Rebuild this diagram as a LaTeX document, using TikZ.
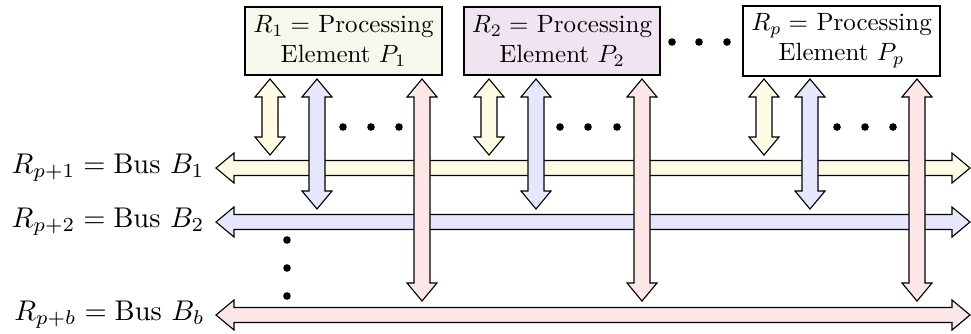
\documentclass[tikz,border=0pt]{standalone}
\usetikzlibrary{calc}
\definecolor{arY}{HTML}{FFFCE6}
\definecolor{arB}{HTML}{E6E6FC}
\definecolor{arR}{HTML}{FCE6E6}
\definecolor{boxA}{HTML}{F8F7EE}
\definecolor{boxB}{HTML}{F0E4F0}
\newcommand\VArrow[4]{%
  \filldraw[arrowshape, fill=#4]
    (#1,#2) -- (#1+15,#2+18) -- (#1+8,#2+18) -- (#1+8,#3-18) -- (#1+15,#3-18)
    -- (#1,#3) -- (#1-15,#3-18) -- (#1-8,#3-18) -- (#1-8,#2+18) -- (#1-15,#2+18) -- cycle;}
\newcommand\HArrow[4]{%
  \filldraw[arrowshape, fill=#4]
    (#1,#3) -- (#1+18,#3-15) -- (#1+18,#3-7.5) -- (#2-18,#3-7.5) -- (#2-18,#3-15)
    -- (#2,#3) -- (#2-18,#3+15) -- (#2-18,#3+7.5) -- (#1+18,#3+7.5) -- (#1+18,#3+15) -- cycle;}
\newcommand\Dot[2]{\fill (#1,#2) circle[radius=3.8];}
\newcommand\BusText[1]{\scalebox{1.14}{#1}}
\begin{document}
\begin{tikzpicture}[x=0.4pt,y=-0.4pt,
  arrowshape/.style={draw=black, line width=0.45pt, line join=miter},
  pebox/.style={draw=black, line width=0.8pt, align=center, inner sep=3.3pt},
  buslabel/.style={anchor=east, inner sep=0pt}]
\useasboundingbox (0,0) rectangle (971,333);
% processing elements
\node[pebox, fill=boxA] (p1) at (343.5,41) {$R_1 =$ Processing\\Element $P_1$};
\node[pebox, fill=boxB] (p2) at (562,41) {$R_2 =$ Processing\\Element $P_2$};
\node[pebox, fill=white] (pp) at (841.5,41) {$R_p =$ Processing\\Element $P_p$};
% bus labels
\node[buslabel] (b1) at (205,168) {\BusText{$R_{p+1} = \mathrm{Bus}\ B_1$}};
\node[buslabel] (b2) at (205,222) {\BusText{$R_{p+2} = \mathrm{Bus}\ B_2$}};
\node[buslabel] (bb) at (205,315) {\BusText{$R_{p+b} = \mathrm{Bus}\ B_b$}};
% buses
\HArrow{216}{970}{168}{arY}
\HArrow{216}{970}{222}{arB}
\HArrow{216}{970}{315}{arR}
% vertical arrows
\foreach \x in {270,489,764} {\VArrow{\x}{79}{155}{arY}}
\foreach \x in {317,536,810} {\VArrow{\x}{79}{209}{arB}}
\foreach \x in {422,642,917} {\VArrow{\x}{79}{301}{arR}}
% dots
\foreach \x in {343,371,399,560,588,617,837,865,893} {\Dot{\x}{127}}
\foreach \x in {672,699,727} {\Dot{\x}{42}}
\foreach \y in {240,268,296} {\Dot{287}{\y}}
\end{tikzpicture}
\end{document}
